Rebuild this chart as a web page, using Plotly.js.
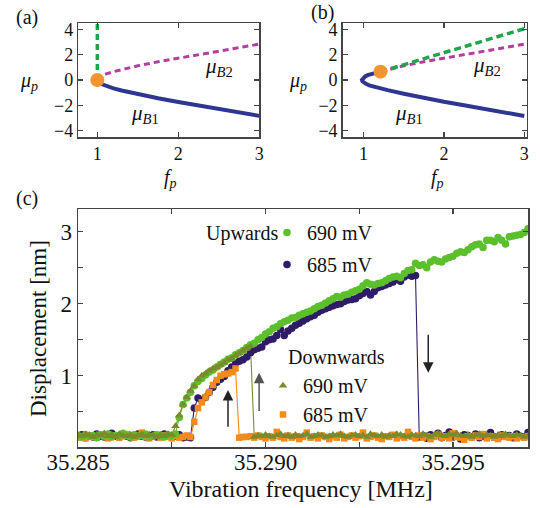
<!DOCTYPE html>
<html>
<head>
<meta charset="utf-8">
<script src="https://cdn.plot.ly/plotly-3.0.1.min.js"></script>
<style>
  html, body { margin: 0; padding: 0; background: #ffffff; }
  #chart { width: 540px; height: 508px; }
</style>
</head>
<body>
<div id="chart"></div>
<script>
// ---- Panel (a): branches of the steady-state amplitude vs. drive ----
const aFreq   = [1.0, 1.02, 1.05, 1.1, 1.2, 1.3, 1.4, 1.5, 1.75, 2.0, 2.25, 2.5, 2.75, 3.0];
const aMuB1   = [0, -0.2, -0.32, -0.46, -0.66, -0.83, -0.98, -1.12, -1.44, -1.73, -2.02, -2.29, -2.56, -2.83];
const aMuB2   = [0, 0.2, 0.32, 0.46, 0.66, 0.83, 0.98, 1.12, 1.44, 1.73, 2.02, 2.29, 2.56, 2.83];
const aJumpF  = [1.0, 1.0];
const aJumpMu = [0, 4.5];
const aPointF  = [1.0];
const aPointMu = [0];

// ---- Panel (b) ----
const bFreqB1 = [1.21, 1.15, 1.1, 1.05, 1.02, 1.0, 0.985, 0.98, 0.985, 1.0, 1.03, 1.07, 1.12, 1.2, 1.3, 1.5, 1.75, 2.0, 2.25, 2.5, 2.75, 3.0];
const bMuB1   = [0.66, 0.58, 0.5, 0.38, 0.28, 0.18, 0.08, 0, -0.1, -0.2, -0.3, -0.42, -0.52, -0.66, -0.8, -1.08, -1.42, -1.72, -2.0, -2.28, -2.56, -2.84];
const bFreqB2 = [1.21, 1.5, 1.75, 2.0, 2.25, 2.5, 2.75, 3.0];
const bMuB2   = [0.66, 1.12, 1.44, 1.73, 2.02, 2.29, 2.56, 2.83];
const bJumpF  = [1.21, 3.0];
const bJumpMu = [0.66, 4.05];
const bPointF  = [1.21];
const bPointMu = [0.66];

// ---- Panel (c): measured displacement, frequency sweeps ----
const sweepStart = 35.2850;   // MHz
const sweepStep  = 0.0001;    // MHz

// Upwards sweep, 690 mV
const up690 = [
  0.17,0.15,0.18,0.16,0.17,0.14,0.18,0.16,0.19,0.15,
  0.17,0.16,0.20,0.17,0.15,0.18,0.16,0.17,0.19,0.15,
  0.16,0.18,0.17,0.15,0.18,0.17,0.19,
  0.42,0.60,0.69,0.77,0.86,0.92,0.96,1.01,1.05,1.08,
  1.12,1.16,1.19,1.23,1.25,1.29,1.32,1.35,1.39,1.43,
  1.45,1.50,1.53,1.58,1.61,1.66,1.68,1.72,1.75,1.77,
  1.80,1.81,1.84,1.86,1.88,1.90,1.93,1.96,1.98,2.01,
  2.04,2.07,2.10,2.09,2.12,2.13,2.16,2.18,2.20,2.25,
  2.29,2.27,2.26,2.28,2.29,2.32,2.35,2.37,2.38,2.36,
  2.42,2.46,2.47,2.56,2.53,2.54,2.50,2.58,2.61,2.59,
  2.58,2.62,2.64,2.66,2.70,2.72,2.71,2.75,2.79,2.82,
  2.83,2.78,2.88,2.88,2.86,2.92,2.88,2.83,2.93,2.94,
  2.95,2.96,2.99,3.04
];
// Upwards sweep, 685 mV
const up685 = [
  0.16,0.18,0.14,0.17,0.15,0.19,0.16,0.15,0.17,0.20,
  0.16,0.15,0.18,0.16,0.14,0.17,0.19,0.16,0.15,0.17,
  0.18,0.15,0.16,0.19,0.17,0.15,0.16,0.18,0.14,0.15,
  0.14,
  0.55,0.69,0.66,0.70,0.77,0.84,0.91,0.95,0.99,1.07,
  1.12,1.17,1.20,1.22,1.26,1.32,1.36,1.38,1.40,1.47,
  1.50,1.51,1.56,1.64,1.56,1.62,1.66,1.70,1.73,1.76,
  1.79,1.82,1.84,1.88,1.91,1.93,1.95,1.97,1.99,2.00,
  2.03,2.05,2.06,2.07,2.11,2.14,2.17,2.12,2.17,2.22,
  2.24,2.26,2.28,2.30,2.34,2.31,2.37,2.40,2.38,2.39,
  0.15,0.17,0.13,0.18,0.16,0.20,0.14,0.17,0.22,0.15,
  0.16,0.12,0.18,0.17,0.15,0.19,0.14,0.16,0.17,0.21,
  0.15,0.13,0.18,0.16,0.17,0.14,0.19,0.16,0.15,0.21
];
// Downwards sweep, 690 mV
const down690 = [
  0.18,0.16,0.19,0.17,0.15,0.18,0.17,0.20,0.16,0.18,
  0.15,0.19,0.17,0.16,0.18,0.15,0.17,0.19,0.16,0.18,
  0.17,0.15,0.18,0.16,0.19,0.18,
  0.30,0.45,0.60,0.70,0.79,0.86,0.95,1.00,1.03,1.07,
  1.10,1.12,1.15,1.18,1.22,1.24,1.28,1.31,1.35,1.38,
  1.41,
  0.15,0.17,0.16,0.18,0.16,0.15,0.17,0.19,0.16,0.17,
  0.15,0.18,0.16,0.17,0.19,0.15,0.16,0.18,0.17,0.15,
  0.16,0.18,0.17,0.19,0.16,0.15,0.17,0.18,0.16,0.17,
  0.15,0.19,0.17,0.16,0.18,0.15,0.17,0.16,0.19,0.18,
  0.16,0.15,0.18,0.17,0.16,0.19,0.17,0.15,0.18,0.20,
  0.17,0.16,0.19,0.18,0.20,0.17,0.16,0.18,0.15,0.17,
  0.19,0.16,0.18,0.17,0.15,0.18,0.16,0.19,0.17,0.16,
  0.18,0.17,0.15,0.17
];
// Downwards sweep, 685 mV
const down685 = [
  0.14,0.16,0.13,0.17,0.15,0.14,0.18,0.16,0.13,0.15,
  0.17,0.14,0.16,0.19,0.15,0.14,0.17,0.21,0.15,0.13,
  0.16,0.18,0.14,0.17,0.15,0.13,0.16,0.14,0.15,0.17,
  0.15,
  0.36,0.55,0.63,0.70,0.77,0.87,0.94,1.00,1.02,1.03,
  1.05,1.10,
  0.14,0.15,0.15,0.16,0.14,0.17,0.15,0.13,0.16,0.14,
  0.22,0.15,0.13,0.17,0.14,0.16,0.12,0.15,0.21,0.14,
  0.16,0.13,0.17,0.15,0.12,0.16,0.14,0.18,0.13,0.15,
  0.17,0.14,0.16,0.21,0.13,0.15,0.17,0.14,0.12,0.16,
  0.15,0.18,0.13,0.16,0.14,0.22,0.15,0.13,0.17,0.14,
  0.16,0.12,0.15,0.18,0.14,0.16,0.13,0.20,0.15,0.14,
  0.11,0.16,0.14,0.17,0.15,0.19,0.13,0.16,0.14,0.12,
  0.17,0.15,0.14,0.16,0.13,0.15,0.14,0.16
];
const sweepFreq = up690.map((_, i) => +(sweepStart + i * sweepStep).toFixed(4));

// Axis ticks
const abFreqTicks = [1, 2, 3];
const abMuTicks   = [-4, -2, 0, 2, 4];
const cFreqTicks  = [35.285, 35.29, 35.295];
const cFreqLabels = ['35.285', '35.290', '35.295'];
const cFreqMinor  = [35.2875, 35.2925];
const cDispTicks  = [1, 2, 3];
const cDispMinor  = [0.5, 1.5, 2.5];

// Sweep legend text
const upLabel = 'Upwards';
const downLabel = 'Downwards';
const seriesNames = ['690 mV', '685 mV'];

// ---- styling ----
const FONT = '"Liberation Serif", "Times New Roman", serif';
const INK = '#111111';
const NAVY = '#2e3592', MAGENTA = '#b43e9e', GREEN = '#1fa64a', ORANGE = '#f29531';
const C_UP690 = '#5cbf2c', C_UP685 = '#2f1c66', C_DN690 = '#7b8a2a', C_DN685 = '#f28a1c';

const traces = [];
function curve(x, y, xa, ya, color, width, dash) {
  traces.push({x, y, xaxis: xa, yaxis: ya, type: 'scatter', mode: 'lines',
    line: {color, width, dash: dash || 'solid'}, showlegend: false, hoverinfo: 'skip'});
}
function dot(x, y, xa, ya) {
  traces.push({x, y, xaxis: xa, yaxis: ya, type: 'scatter', mode: 'markers',
    marker: {color: ORANGE, size: 14}, showlegend: false, hoverinfo: 'skip'});
}

// panel (a)
curve(aFreq, aMuB1, 'x', 'y', NAVY, 4);
curve(aFreq, aMuB2, 'x', 'y', MAGENTA, 3, '6px,4px');
curve(aJumpF, aJumpMu, 'x', 'y', GREEN, 3.5, '6px,4px');
dot(aPointF, aPointMu, 'x', 'y');
// panel (b)
curve(bFreqB1, bMuB1, 'x2', 'y2', NAVY, 4);
curve(bFreqB2, bMuB2, 'x2', 'y2', MAGENTA, 3, '6px,4px');
curve(bJumpF, bJumpMu, 'x2', 'y2', GREEN, 3.5, '7px,4px');
dot(bPointF, bPointMu, 'x2', 'y2');

// panel (c): thin connecting lines first, markers on top (drawing order = list order)
const sweeps = [
  {y: up685,   color: C_UP685, symbol: 'circle',      size: 7.5, name: seriesNames[1], legend: 'legend',  rank: 2},
  {y: down685, color: C_DN685, symbol: 'square',      size: 6.5, name: seriesNames[1], legend: 'legend2', rank: 2},
  {y: up690,   color: C_UP690, symbol: 'circle',      size: 7.5, name: seriesNames[0], legend: 'legend',  rank: 1},
  {y: down690, color: C_DN690, symbol: 'triangle-up', size: 7.5, name: seriesNames[0], legend: 'legend2', rank: 1}
];
sweeps.forEach(s => curve(sweepFreq, s.y, 'x3', 'y3', s.color, 1.1));
sweeps.forEach((s, i) => traces.push({
  x: sweepFreq, y: s.y, xaxis: 'x3', yaxis: 'y3', type: 'scatter', mode: 'markers',
  name: s.name, legend: s.legend, legendgroup: 'g' + i, legendrank: s.rank,
  marker: {color: s.color, symbol: s.symbol, size: s.size}
}));

const W = 540, H = 508;
const px = v => v / W, py = v => 1 - v / H;

function axis(extra, size) {
  return Object.assign({
    showline: true, linecolor: '#444', linewidth: 1.5, mirror: 'ticks',
    ticks: 'inside', ticklen: 5, tickwidth: 1.2, tickcolor: '#444',
    showgrid: false, zeroline: false,
    tickfont: {family: FONT, size: size, color: INK}
  }, extra);
}
const minorTicks = vals => ({tickvals: vals, ticks: 'inside', ticklen: 5, tickwidth: 1.2, tickcolor: '#444', showgrid: false});

const legendBase = {
  xanchor: 'left', yanchor: 'top', bgcolor: 'rgba(0,0,0,0)', itemwidth: 30,
  tracegroupgap: 3, font: {family: FONT, size: 20, color: INK}
};

const layout = {
  width: W, height: H,
  margin: {l: 0, r: 0, t: 0, b: 0},
  paper_bgcolor: '#ffffff', plot_bgcolor: '#ffffff',
  font: {family: FONT, color: INK},
  showlegend: true,
  xaxis:  axis({domain: [px(78.3), px(259.3)], range: [0.765, 3.0], tickvals: abFreqTicks, anchor: 'y'}, 18),
  yaxis:  axis({domain: [py(137), py(23)], range: [-4.5, 4.5], tickvals: abMuTicks, anchor: 'x'}, 18),
  xaxis2: axis({domain: [px(342.7), px(526.7)], range: [0.74, 3.03], tickvals: abFreqTicks, anchor: 'y2'}, 18),
  yaxis2: axis({domain: [py(137), py(23)], range: [-4.5, 4.5], tickvals: abMuTicks, anchor: 'x2'}, 18),
  xaxis3: axis({domain: [px(78), px(528)], range: [35.285, 35.297], tickvals: cFreqTicks, ticktext: cFreqLabels,
                minor: minorTicks(cFreqMinor), ticklabelstandoff: -6, anchor: 'y3'}, 23),
  yaxis3: axis({domain: [py(447), py(209)], range: [0.01, 3.315], tickvals: cDispTicks,
                minor: minorTicks(cDispMinor), anchor: 'x3'}, 23),
  legend:  Object.assign({}, legendBase, {x: px(267), y: py(213)}),
  legend2: Object.assign({}, legendBase, {x: px(263), y: py(366), tracegroupgap: 0}),
  annotations: [
    {text: '(a)', x: px(27), y: py(17)},
    {text: '(b)', x: px(322), y: py(13)},
    {text: '(c)', x: px(27), y: py(199)},
    {text: '<i>μ</i><sub><i>p</i></sub>', x: px(29), y: py(82)},
    {text: '<i>μ</i><sub><i>p</i></sub>', x: px(298), y: py(82)},
    {text: '<i>f</i><sub><i>p</i></sub>', x: px(170), y: py(178)},
    {text: '<i>f</i><sub><i>p</i></sub>', x: px(437), y: py(178)},
    {text: upLabel, x: px(242), y: py(233)},
    {text: downLabel, x: px(336), y: py(357)},
    {text: 'Displacement [nm]', x: px(38), y: py(329), textangle: -90, font: {family: FONT, size: 23, color: INK}},
    {text: 'Vibration frequency [MHz]', x: px(301), y: py(489), font: {family: FONT, size: 24, color: INK}}
  ].map(a => Object.assign({xref: 'paper', yref: 'paper', showarrow: false,
      xanchor: 'center', yanchor: 'middle', font: {family: FONT, size: 20, color: INK}}, a))
  .concat([
    // branch labels
    {text: '<i>μ</i><sub><i>B</i>2</sub>', xref: 'x', yref: 'y', x: 2.5, y: 1.05},
    {text: '<i>μ</i><sub><i>B</i>1</sub>', xref: 'x', yref: 'y', x: 1.59, y: -2.66},
    {text: '<i>μ</i><sub><i>B</i>2</sub>', xref: 'x2', yref: 'y2', x: 2.53, y: 1.13},
    {text: '<i>μ</i><sub><i>B</i>1</sub>', xref: 'x2', yref: 'y2', x: 1.57, y: -2.66}
  ].map(a => Object.assign({showarrow: false, xanchor: 'center', yanchor: 'middle',
      font: {family: FONT, size: 21, color: INK}}, a)))
  .concat([
    // sweep-direction arrows
    {x: 35.2890, y: 0.80, ax: 35.2890, ay: 0.27, arrowcolor: '#222'},
    {x: 35.28983, y: 1.04, ax: 35.28983, ay: 0.49, arrowcolor: '#555'},
    {x: 35.29434, y: 1.04, ax: 35.29434, ay: 1.59, arrowcolor: '#222'}
  ].map(a => Object.assign({xref: 'x3', yref: 'y3', axref: 'x3', ayref: 'y3', text: '',
      showarrow: true, arrowhead: 2, arrowsize: 1.4, arrowwidth: 1.5}, a)))
};

Plotly.newPlot('chart', traces, layout, {staticPlot: true, displayModeBar: false});
</script>
</body>
</html>
